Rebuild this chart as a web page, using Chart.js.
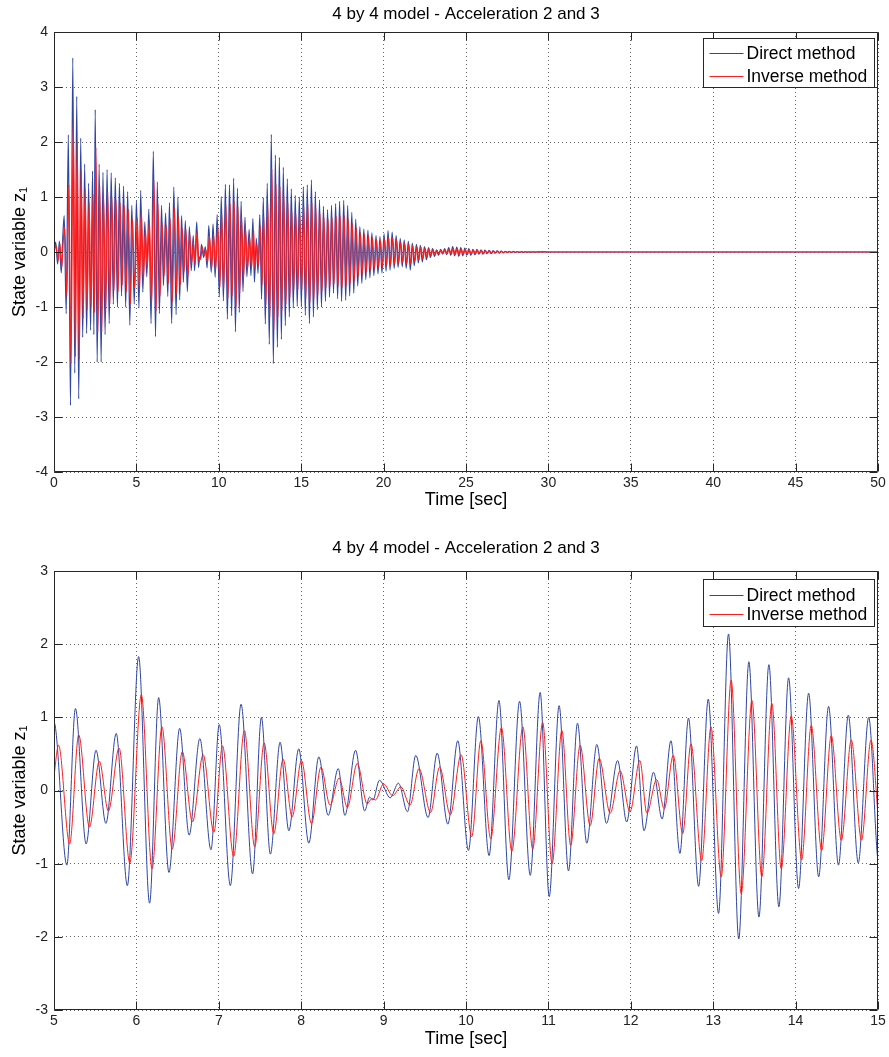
<!DOCTYPE html>
<html>
<head>
<meta charset="utf-8">
<script src="https://cdn.jsdelivr.net/npm/chart.js@4.4.0/dist/chart.umd.min.js"></script>
<style>
  html, body { margin: 0; padding: 0; background: #fff; }
  canvas { display: block; }
</style>
</head>
<body>
<canvas id="chartAll" width="889" height="528"></canvas>
<canvas id="chartZoom" width="889" height="529"></canvas>
<script>
// peaks and troughs, [time in sec, z1]
var directEarly = [[0,0],[0.10,0.18],[0.22,-0.22],[0.33,0.20],[0.44,-0.38],[0.53,0.25],[0.62,0.66],[0.74,-1.12],[0.87,2.13],[1.00,-2.79],[1.14,3.53],[1.26,-2.20],[1.38,2.83],[1.50,-2.67],[1.62,2.07],[1.74,-1.55],[1.86,1.60],[1.98,-1.48],[2.10,1.25],[2.22,-1.42],[2.34,1.47],[2.42,-1.50],[2.50,2.59],[2.62,-2.00],[2.74,1.60],[2.86,-2.00],[2.97,1.45],[3.10,-1.50],[3.22,1.50],[3.35,-1.30],[3.47,1.44],[3.60,-0.95],[3.72,1.35],[3.85,-1.00],[3.97,1.25],[4.10,-0.80],[4.22,1.20],[4.35,-1.00],[4.47,1.10],[4.60,-1.33],[4.72,0.85],[4.87,-0.95]];
var inverseEarly = [[0,0],[0.12,0.12],[0.25,-0.15],[0.36,0.15],[0.47,-0.28],[0.56,0.20],[0.65,0.45],[0.78,-0.80],[0.90,1.22],[1.03,-2.03],[1.17,2.40],[1.30,-1.90],[1.41,2.00],[1.53,-1.95],[1.65,1.50],[1.77,-1.20],[1.89,1.15],[2.01,-1.05],[2.13,0.90],[2.25,-1.00],[2.37,1.05],[2.45,-1.10],[2.54,1.90],[2.66,-1.45],[2.78,1.20],[2.90,-1.45],[3.01,1.05],[3.14,-1.10],[3.26,1.10],[3.39,-0.95],[3.51,1.00],[3.64,-0.70],[3.76,0.95],[3.89,-0.72],[4.01,0.90],[4.14,-0.60],[4.26,0.85],[4.39,-0.72],[4.51,0.78],[4.64,-0.95],[4.76,0.60],[4.89,-0.65]];

var directMid = [[5.00,0.93],[5.156,-1.02],[5.26,1.12],[5.39,-0.73],[5.51,0.55],[5.63,-0.45],[5.755,0.78],[5.89,-1.30],[6.027,1.83],[6.16,-1.54],[6.27,1.27],[6.395,-1.12],[6.525,0.85],[6.64,-0.61],[6.77,0.71],[6.905,-0.81],[7.005,0.90],[7.14,-1.30],[7.27,1.18],[7.41,-1.14],[7.517,1.00],[7.626,-0.87],[7.744,0.66],[7.85,-0.55],[7.97,0.57],[8.092,-0.72],[8.214,0.46],[8.327,-0.34],[8.45,0.30],[8.53,-0.34],[8.66,0.55],[8.77,-0.28],[8.83,-0.09],[8.87,-0.13],[8.95,0.14],[9.08,-0.10],[9.18,0.10],[9.29,-0.29],[9.39,0.48],[9.54,-0.37],[9.65,0.51],[9.78,-0.46],[9.90,0.68],[10.03,-0.82],[10.15,1.01],[10.28,-0.89],[10.40,1.23],[10.52,-1.22],[10.65,1.22],[10.78,-1.16],[10.90,1.34],[11.01,-1.45],[11.13,1.16],[11.244,-1.10],[11.353,0.92],[11.466,-0.72],[11.588,0.63],[11.705,-0.45],[11.84,0.41],[11.95,-0.43],[12.07,0.61],[12.16,-0.55],[12.276,0.25],[12.38,-0.39],[12.487,0.68],[12.596,-0.86],[12.70,0.99],[12.823,-1.31],[12.94,1.25],[13.065,-1.68],[13.186,2.14],[13.31,-2.03],[13.433,1.76],[13.555,-1.73],[13.676,1.72],[13.797,-1.59],[13.915,1.54],[14.036,-1.34],[14.158,1.33],[14.28,-1.18],[14.40,1.15],[14.52,-1.02],[14.64,1.03],[14.76,-0.99],[14.887,1.00],[15.01,-1.00]];
var inverseMid = [[5.00,0.20],[5.055,0.62],[5.19,-0.73],[5.30,0.76],[5.43,-0.50],[5.55,0.40],[5.66,-0.28],[5.79,0.58],[5.92,-0.99],[6.06,1.31],[6.19,-1.07],[6.31,0.87],[6.435,-0.80],[6.557,0.53],[6.68,-0.43],[6.81,0.49],[6.94,-0.57],[7.045,0.61],[7.18,-0.90],[7.31,0.82],[7.436,-0.77],[7.55,0.65],[7.667,-0.59],[7.78,0.43],[7.89,-0.36],[8.003,0.41],[8.125,-0.45],[8.24,0.32],[8.35,-0.20],[8.46,0.17],[8.56,-0.23],[8.68,0.37],[8.80,-0.18],[8.86,-0.11],[8.90,-0.13],[9.00,0.09],[9.11,-0.07],[9.21,0.05],[9.32,-0.20],[9.43,0.30],[9.57,-0.30],[9.68,0.32],[9.81,-0.33],[9.94,0.49],[10.07,-0.63],[10.18,0.68],[10.30,-0.66],[10.43,0.86],[10.556,-0.83],[10.69,0.87],[10.81,-0.80],[10.93,0.93],[11.045,-1.00],[11.163,0.82],[11.27,-0.75],[11.385,0.62],[11.507,-0.48],[11.616,0.44],[11.75,-0.31],[11.87,0.27],[11.99,-0.29],[12.11,0.41],[12.195,-0.31],[12.313,0.15],[12.406,-0.25],[12.515,0.48],[12.63,-0.59],[12.73,0.64],[12.86,-0.96],[12.973,0.87],[13.097,-1.18],[13.218,1.51],[13.34,-1.41],[13.47,1.23],[13.59,-1.18],[13.712,1.19],[13.826,-1.07],[13.947,1.02],[14.073,-0.95],[14.19,0.89],[14.316,-0.82],[14.433,0.75],[14.555,-0.68],[14.676,0.69],[14.80,-0.68],[14.915,0.69]];

var directLate = [[15.13,1.19],[15.25,-1.15],[15.37,1.22],[15.50,-1.30],[15.62,1.31],[15.74,-1.18],[15.86,1.10],[15.98,-1.05],[16.11,0.95],[16.23,-1.00],[16.35,0.83],[16.47,-0.90],[16.60,0.77],[16.72,-0.82],[16.84,0.85],[16.96,-0.75],[17.09,0.88],[17.21,-0.85],[17.33,0.92],[17.45,-0.90],[17.58,0.94],[17.70,-0.88],[17.82,0.85],[17.94,-0.80],[18.07,0.72],[18.19,-0.75],[18.31,0.60],[18.43,-0.62],[18.56,0.46],[18.68,-0.57],[18.80,0.42],[18.92,-0.50],[19.05,0.40],[19.17,-0.47],[19.29,0.35],[19.41,-0.43],[19.54,0.30],[19.66,-0.40],[19.78,0.28],[19.90,-0.38],[20.03,0.33],[20.15,-0.35],[20.27,0.39],[20.39,-0.33],[20.52,0.36],[20.64,-0.30],[20.76,0.30],[20.88,-0.28],[21.01,0.25],[21.13,-0.27],[21.25,0.22],[21.37,-0.30],[21.50,0.20],[21.62,-0.33],[21.74,0.16],[21.86,-0.25],[21.99,0.14],[22.11,-0.20],[22.23,0.12],[22.35,-0.18],[22.48,0.10],[22.60,-0.14],[22.72,0.08],[22.84,-0.10],[22.97,0.06],[23.09,-0.08],[23.21,0.04],[23.33,-0.06],[23.46,0.05],[23.58,-0.04],[23.70,0.06],[23.82,-0.05],[23.95,0.08],[24.07,-0.06],[24.19,0.10],[24.31,-0.07],[24.44,0.09],[24.56,-0.08],[24.68,0.08],[24.80,-0.07],[24.93,0.07],[25.05,-0.06],[25.17,0.06],[25.29,-0.06],[25.42,0.05],[25.54,-0.05],[25.66,0.05],[25.78,-0.04],[25.91,0.04],[26.03,-0.04],[26.15,0.035],[26.27,-0.03],[26.40,0.03],[26.52,-0.03],[26.64,0.025],[26.76,-0.02],[26.89,0.02],[27.01,-0.02],[27.13,0.015],[27.25,-0.015],[27.38,0.012],[27.50,-0.012],[27.62,0.01],[27.74,-0.01],[27.87,0.01],[27.99,-0.008],[28.11,0.008],[28.23,-0.006],[28.36,0.006],[28.48,-0.005],[28.60,0.005],[28.72,-0.004],[28.85,0.004],[28.97,-0.003],[29.09,0.003],[29.21,-0.002],[29.34,0.002],[29.46,-0.002],[29.58,0.001],[30.0,0],[50.0,0]];
var inverseLate = [[15.04,-0.68],[15.16,0.82],[15.28,-0.85],[15.40,0.88],[15.53,-0.92],[15.65,0.90],[15.77,-0.85],[15.89,0.80],[16.01,-0.78],[16.14,0.70],[16.26,-0.72],[16.38,0.62],[16.50,-0.65],[16.63,0.60],[16.75,-0.62],[16.87,0.62],[16.99,-0.58],[17.12,0.65],[17.24,-0.62],[17.36,0.66],[17.48,-0.65],[17.61,0.66],[17.73,-0.62],[17.85,0.60],[17.97,-0.57],[18.10,0.52],[18.22,-0.52],[18.34,0.44],[18.46,-0.44],[18.59,0.35],[18.71,-0.40],[18.83,0.32],[18.95,-0.36],[19.08,0.30],[19.20,-0.33],[19.32,0.26],[19.44,-0.30],[19.57,0.23],[19.69,-0.28],[19.81,0.21],[19.93,-0.27],[20.06,0.24],[20.18,-0.25],[20.30,0.27],[20.42,-0.24],[20.55,0.26],[20.67,-0.22],[20.79,0.22],[20.91,-0.20],[21.04,0.18],[21.16,-0.19],[21.28,0.16],[21.40,-0.21],[21.53,0.15],[21.65,-0.22],[21.77,0.12],[21.89,-0.17],[22.02,0.10],[22.14,-0.14],[22.26,0.09],[22.38,-0.12],[22.51,0.07],[22.63,-0.10],[22.75,0.06],[22.87,-0.07],[23.00,0.045],[23.12,-0.055],[23.24,0.03],[23.36,-0.04],[23.49,0.035],[23.61,-0.03],[23.73,0.045],[23.85,-0.035],[23.98,0.055],[24.10,-0.045],[24.22,0.07],[24.34,-0.05],[24.47,0.065],[24.59,-0.055],[24.71,0.06],[24.83,-0.05],[24.96,0.05],[25.08,-0.045],[25.20,0.045],[25.32,-0.04],[25.45,0.035],[25.57,-0.035],[25.69,0.035],[25.81,-0.03],[25.94,0.03],[26.06,-0.03],[26.18,0.025],[26.30,-0.02],[26.43,0.02],[26.55,-0.02],[26.67,0.018],[26.79,-0.015],[26.92,0.015],[27.04,-0.014],[27.16,0.011],[27.28,-0.011],[27.41,0.009],[27.53,-0.009],[27.65,0.007],[27.77,-0.007],[27.90,0.006],[28.02,-0.006],[28.14,0.005],[28.26,-0.004],[28.39,0.004],[28.51,-0.003],[28.63,0.003],[28.75,-0.003],[28.88,0.002],[29.00,-0.002],[29.12,0.002],[29.24,-0.001],[29.37,0.001],[30.0,0],[50.0,0]];

var titleText = '4 by 4 model - Acceleration 2 and 3';
var seriesNames = ['Direct method', 'Inverse method'];
var xLabel = 'Time [sec]';
var yLabel = 'State variable z\u2081';

var blue = '#2f45a3';
var red = '#ff1e1e';
var fontFam = "'Liberation Sans', Arial, sans-serif";

function toPoints(parts) {
  var out = [];
  parts.forEach(function (p) {
    p.forEach(function (d) { out.push({x: d[0], y: d[1]}); });
  });
  return out;
}
var directPts = toPoints([directEarly, directMid, directLate]);
var inversePts = toPoints([inverseEarly, inverseMid, inverseLate]);

// axes box, inward tick marks and the boxed legend, like matlab draws them
var matlabBox = {
  id: 'matlabBox',
  afterDatasetsDraw: function (chart, args, opts) {
    var ctx = chart.ctx, a = chart.chartArea;
    var xs = chart.scales.x, ys = chart.scales.y;
    var l = Math.round(a.left) + 0.5, r = Math.round(a.right) - 0.5;
    var t = Math.round(a.top) + 0.5, b = Math.round(a.bottom) - 0.5;
    ctx.save();
    ctx.strokeStyle = '#262626';
    ctx.lineWidth = 1;
    ctx.beginPath();
    ctx.rect(l, t, r - l, b - t);
    xs.ticks.forEach(function (tk) {
      var px = Math.round(xs.getPixelForValue(tk.value)) + 0.5;
      ctx.moveTo(px, b); ctx.lineTo(px, b - opts.tick);
      ctx.moveTo(px, t); ctx.lineTo(px, t + opts.tick);
    });
    ys.ticks.forEach(function (tk) {
      var py = Math.round(ys.getPixelForValue(tk.value)) + 0.5;
      ctx.moveTo(l, py); ctx.lineTo(l + opts.tick, py);
      ctx.moveTo(r, py); ctx.lineTo(r - opts.tick, py);
    });
    ctx.stroke();

    var lg = opts.legend;
    var bx = Math.round(a.right) - lg.right - lg.width + 0.5;
    var by = Math.round(a.top) + lg.top + 0.5;
    ctx.fillStyle = '#fff';
    ctx.fillRect(bx, by, lg.width, lg.height);
    ctx.strokeRect(bx, by, lg.width, lg.height);
    ctx.font = lg.font;
    ctx.textBaseline = 'middle';
    chart.data.datasets.forEach(function (ds, i) {
      var ly = Math.round(by + lg.rows[i]) + 0.5;
      ctx.strokeStyle = ds.borderColor;
      ctx.beginPath();
      ctx.moveTo(bx + 6, ly);
      ctx.lineTo(bx + 40, ly);
      ctx.stroke();
      ctx.fillStyle = '#000';
      ctx.fillText(ds.label, bx + 43, ly + 1);
    });
    ctx.restore();
  }
};

function makeChart(id, cfg) {
  new Chart(document.getElementById(id), {
    type: 'line',
    data: {
      datasets: [{
        label: seriesNames[0],
        data: directPts,
        borderColor: blue,
        borderWidth: cfg.lineW,
        pointRadius: 0,
        cubicInterpolationMode: 'monotone',
        order: 2
      }, {
        label: seriesNames[1],
        data: inversePts,
        borderColor: red,
        borderWidth: cfg.lineW,
        pointRadius: 0,
        cubicInterpolationMode: 'monotone',
        order: 1
      }]
    },
    options: {
      responsive: false,
      animation: false,
      events: [],
      layout: { padding: cfg.padding },
      plugins: {
        legend: { display: false },
        tooltip: { enabled: false },
        title: {
          display: true,
          text: titleText,
          fullSize: false,
          color: '#000',
          font: { family: fontFam, size: 17, weight: 'normal' },
          padding: cfg.titlePad
        },
        matlabBox: { tick: 8, legend: cfg.legend }
      },
      scales: {
        x: {
          type: 'linear',
          min: cfg.xMin,
          max: cfg.xMax,
          afterFit: function (s) { s.height = 40; },
          ticks: {
            stepSize: cfg.xStep,
            color: '#222',
            padding: 3,
            maxRotation: 0,
            font: { family: fontFam, size: 14 }
          },
          grid: { color: 'rgba(0,0,0,0.6)', drawTicks: false },
          border: { display: false, dash: [1, 3] },
          title: {
            display: true,
            text: xLabel,
            color: '#000',
            font: { family: fontFam, size: 18 },
            padding: { top: 0, bottom: cfg.xTitleBottom }
          }
        },
        y: {
          min: cfg.yMin,
          max: cfg.yMax,
          afterFit: function (s) { s.width = 54; },
          ticks: {
            stepSize: 1,
            color: '#222',
            padding: 6,
            font: { family: fontFam, size: 14 }
          },
          grid: { color: 'rgba(0,0,0,0.6)', drawTicks: false },
          border: { display: false, dash: [1, 3] },
          title: {
            display: true,
            text: yLabel,
            color: '#000',
            font: { family: fontFam, size: 18 },
            padding: { top: 9, bottom: 0 }
          }
        }
      }
    },
    plugins: [matlabBox]
  });
}

makeChart('chartAll', {
  xMin: 0, xMax: 50, xStep: 5, yMin: -4, yMax: 4, lineW: 1.2,
  padding: { left: 0, right: 11, top: 0, bottom: 16 },
  titlePad: { top: 4, bottom: 7.6 },
  xTitleBottom: 1,
  legend: { right: 4, top: 6, width: 171, height: 49, rows: [14, 37], font: '17.5px ' + fontFam }
});

makeChart('chartZoom', {
  xMin: 5, xMax: 15, xStep: 1, yMin: -3, yMax: 3, lineW: 1,
  padding: { left: 0, right: 11, top: 0, bottom: 7 },
  titlePad: { top: 10, bottom: 12.6 },
  xTitleBottom: 0,
  legend: { right: 4, top: 8, width: 171, height: 47, rows: [15, 34], font: '17.5px ' + fontFam }
});
</script>
</body>
</html>
